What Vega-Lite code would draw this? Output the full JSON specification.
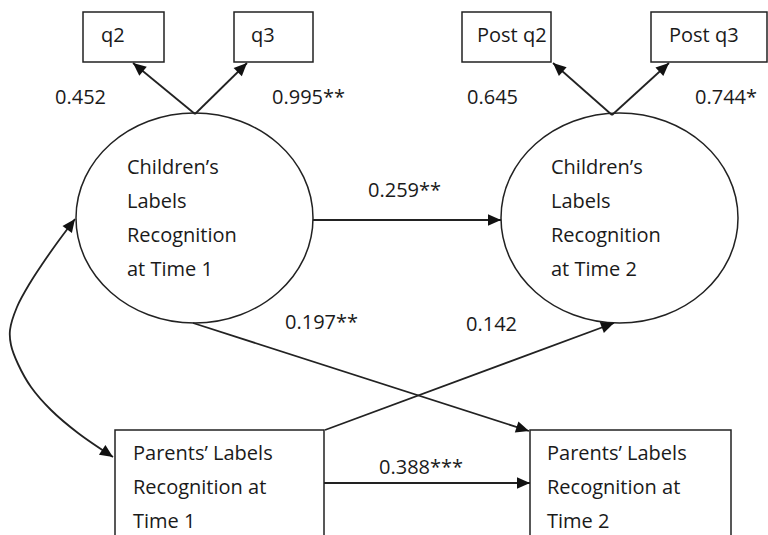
{
  "$schema": "https://vega.github.io/schema/vega-lite/v6.json",
  "width": 768,
  "height": 535,
  "padding": 0,
  "autosize": {"type": "none"},
  "background": "white",
  "config": {"view": {"stroke": null}},
  "datasets": {
    "boxes": [
      {"name": "q2", "x": 83, "x2": 164, "y": 12, "y2": 62},
      {"name": "q3", "x": 234, "x2": 313, "y": 12, "y2": 62},
      {"name": "Post q2", "x": 462, "x2": 551, "y": 12, "y2": 62},
      {"name": "Post q3", "x": 651, "x2": 767, "y": 12, "y2": 62},
      {"name": "Parents T1", "x": 115, "x2": 324, "y": 430, "y2": 560},
      {"name": "Parents T2", "x": 530, "x2": 731, "y": 430, "y2": 560}
    ],
    "latent": [
      {"name": "Children T1", "x": 194.5, "y": 218},
      {"name": "Children T2", "x": 619.5, "y": 218}
    ],
    "arrows": [
      {"kind": "path", "fx": 195, "fy": 114, "tx": 133, "ty": 63},
      {"kind": "path", "fx": 195, "fy": 114, "tx": 247, "ty": 63},
      {"kind": "path", "fx": 612, "fy": 115, "tx": 553, "ty": 63},
      {"kind": "path", "fx": 612, "fy": 115, "tx": 669, "ty": 63},
      {"kind": "path", "fx": 313, "fy": 220, "tx": 501, "ty": 220},
      {"kind": "path", "fx": 193, "fy": 323, "tx": 529, "ty": 431},
      {"kind": "path", "fx": 325, "fy": 430, "tx": 614, "ty": 323},
      {"kind": "path", "fx": 324, "fy": 483, "tx": 530, "ty": 483},
      {"kind": "curve", "fx": 57, "fy": 243, "tx": 75, "ty": 219},
      {"kind": "curve", "fx": 80, "fy": 435, "tx": 113, "ty": 457}
    ],
    "curve": [
      {"i": 0, "x": 75, "y": 219},
      {"i": 1, "x": 57, "y": 243},
      {"i": 2, "x": 43, "y": 263},
      {"i": 3, "x": 30, "y": 283},
      {"i": 4, "x": 17, "y": 307},
      {"i": 5, "x": 10, "y": 330},
      {"i": 6, "x": 11, "y": 345},
      {"i": 7, "x": 18, "y": 364},
      {"i": 8, "x": 31, "y": 387},
      {"i": 9, "x": 51, "y": 410},
      {"i": 10, "x": 78, "y": 433},
      {"i": 11, "x": 113, "y": 457}
    ],
    "texts": [
      {"label": "q2", "x": 101, "y": 36},
      {"label": "q3", "x": 251, "y": 36},
      {"label": "Post q2", "x": 477, "y": 36},
      {"label": "Post q3", "x": 669, "y": 36},
      {"label": "0.452", "x": 55, "y": 98},
      {"label": "0.995**", "x": 272, "y": 98},
      {"label": "0.645", "x": 467, "y": 98},
      {"label": "0.744*", "x": 695, "y": 98},
      {"label": "0.259**", "x": 368, "y": 191},
      {"label": "0.197**", "x": 285, "y": 323},
      {"label": "0.142", "x": 466, "y": 325},
      {"label": "0.388***", "x": 379, "y": 468},
      {"label": "Children’s", "x": 127, "y": 168},
      {"label": "Labels", "x": 127, "y": 202},
      {"label": "Recognition", "x": 127, "y": 236},
      {"label": "at Time 1", "x": 127, "y": 270},
      {"label": "Children’s", "x": 551, "y": 168},
      {"label": "Labels", "x": 551, "y": 202},
      {"label": "Recognition", "x": 551, "y": 236},
      {"label": "at Time 2", "x": 551, "y": 270},
      {"label": "Parents’ Labels", "x": 133, "y": 454},
      {"label": "Recognition at", "x": 133, "y": 488},
      {"label": "Time 1", "x": 133, "y": 522},
      {"label": "Parents’ Labels", "x": 547, "y": 454},
      {"label": "Recognition at", "x": 547, "y": 488},
      {"label": "Time 2", "x": 547, "y": 522}
    ]
  },
  "layer": [
    {
      "data": {"name": "boxes"},
      "mark": {"type": "rect", "fill": "white", "stroke": "#222", "strokeWidth": 1.5},
      "encoding": {
        "x": {"field": "x", "type": "quantitative", "scale": {"domain": [0, 768], "nice": false, "zero": false}, "axis": null},
        "x2": {"field": "x2"},
        "y": {"field": "y", "type": "quantitative", "scale": {"domain": [0, 535], "nice": false, "zero": false, "reverse": true}, "axis": null},
        "y2": {"field": "y2"}
      }
    },
    {
      "data": {"name": "latent"},
      "mark": {
        "type": "point",
        "shape": "M -1,0 C -1,-0.489 -0.5523,-0.886 0,-0.886 C 0.5523,-0.886 1,-0.489 1,0 C 1,0.489 0.5523,0.886 0,0.886 C -0.5523,0.886 -1,0.489 -1,0 Z",
        "size": 56169,
        "filled": false,
        "stroke": "#222",
        "strokeWidth": 1.5,
        "opacity": 1
      },
      "encoding": {
        "x": {"field": "x", "type": "quantitative", "scale": {"domain": [0, 768], "nice": false, "zero": false}, "axis": null},
        "y": {"field": "y", "type": "quantitative", "scale": {"domain": [0, 535], "nice": false, "zero": false, "reverse": true}, "axis": null}
      }
    },
    {
      "data": {"name": "arrows"},
      "transform": [{"filter": "datum.kind == 'path'"}],
      "mark": {"type": "rule", "stroke": "#222", "strokeWidth": 1.8},
      "encoding": {
        "x": {"field": "fx", "type": "quantitative", "scale": {"domain": [0, 768], "nice": false, "zero": false}, "axis": null},
        "y": {"field": "fy", "type": "quantitative", "scale": {"domain": [0, 535], "nice": false, "zero": false, "reverse": true}, "axis": null},
        "x2": {"field": "tx"},
        "y2": {"field": "ty"}
      }
    },
    {
      "data": {"name": "curve"},
      "mark": {"type": "line", "interpolate": "catmull-rom", "stroke": "#222", "strokeWidth": 1.8},
      "encoding": {
        "x": {"field": "x", "type": "quantitative", "scale": {"domain": [0, 768], "nice": false, "zero": false}, "axis": null},
        "y": {"field": "y", "type": "quantitative", "scale": {"domain": [0, 535], "nice": false, "zero": false, "reverse": true}, "axis": null},
        "order": {"field": "i", "type": "quantitative"}
      }
    },
    {
      "data": {"name": "arrows"},
      "transform": [{"calculate": "atan2(datum.tx - datum.fx, datum.fy - datum.ty) * 180 / PI", "as": "ang"}],
      "mark": {
        "type": "point",
        "shape": "M0,0 L-0.45,1 L0.45,1 Z",
        "size": 676,
        "filled": true,
        "fill": "#111",
        "strokeWidth": 0,
        "opacity": 1
      },
      "encoding": {
        "x": {"field": "tx", "type": "quantitative", "scale": {"domain": [0, 768], "nice": false, "zero": false}, "axis": null},
        "y": {"field": "ty", "type": "quantitative", "scale": {"domain": [0, 535], "nice": false, "zero": false, "reverse": true}, "axis": null},
        "angle": {"field": "ang", "type": "quantitative", "scale": null}
      }
    },
    {
      "data": {"name": "texts"},
      "mark": {"type": "text", "align": "left", "baseline": "middle", "font": "Open Sans", "fontSize": 20, "fill": "#1a1a1a"},
      "encoding": {
        "x": {"field": "x", "type": "quantitative", "scale": {"domain": [0, 768], "nice": false, "zero": false}, "axis": null},
        "y": {"field": "y", "type": "quantitative", "scale": {"domain": [0, 535], "nice": false, "zero": false, "reverse": true}, "axis": null},
        "text": {"field": "label", "type": "nominal"}
      }
    }
  ]
}
